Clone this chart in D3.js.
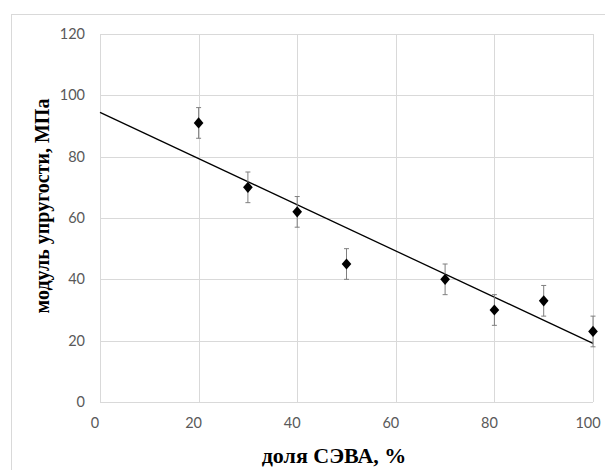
<!DOCTYPE html>
<html><head><meta charset="utf-8">
<script src="https://cdn.jsdelivr.net/npm/d3@7"></script>
<style>html,body{margin:0;padding:0;background:#fff;}</style>
</head><body>
<script>
const xValues = [20, 30, 40, 50, 70, 80, 90, 100];
const yValues = [91, 70, 62, 45, 40, 30, 33, 23];
const yErrors = [5, 5, 5, 5, 5, 5, 5, 5];
const xTicks = [0, 20, 40, 60, 80, 100];
const yTicks = [0, 20, 40, 60, 80, 100, 120];
const xTitle = "доля СЭВА, %";
const yTitle = "модуль упругости, МПа";

const W = 605, H = 470;
const svg = d3.select("body").append("svg").attr("width", W).attr("height", H);

// outer chart border
svg.append("rect").attr("x", 11.5).attr("y", 14.5).attr("width", 620).attr("height", 480)
  .attr("fill", "none").attr("stroke", "#d9d9d9");

const x = d3.scaleLinear().domain([0, 100]).range([100, 593]);
const y = d3.scaleLinear().domain([0, 120]).range([402, 34]);

// gridlines
svg.append("g").selectAll("line.v").data(xTicks).join("line")
  .attr("x1", d => Math.round(x(d)) + 0.5).attr("x2", d => Math.round(x(d)) + 0.5)
  .attr("y1", y(0)).attr("y2", y(120)).attr("stroke", "#d9d9d9");
svg.append("g").selectAll("line.h").data(yTicks).join("line")
  .attr("y1", d => Math.round(y(d)) + 0.5).attr("y2", d => Math.round(y(d)) + 0.5)
  .attr("x1", x(0)).attr("x2", x(100)).attr("stroke", "#d9d9d9");

// tick labels
const tickFont = "Lato, 'Liberation Sans', sans-serif";
svg.append("g").selectAll("text").data(yTicks).join("text")
  .attr("x", 85).attr("y", d => y(d)).attr("dy", "0.35em")
  .attr("text-anchor", "end").attr("font-family", tickFont).attr("font-size", 14.5)
  .attr("fill", "#595959").text(d => d);
svg.append("g").selectAll("text").data(xTicks).join("text")
  .attr("x", d => x(d) - 5).attr("y", 423).attr("dy", "0.35em")
  .attr("text-anchor", "middle").attr("font-family", tickFont).attr("font-size", 14.5)
  .attr("fill", "#595959").text(d => d);

// trendline (least squares)
const mx = d3.mean(xValues), my = d3.mean(yValues);
const sxy = d3.sum(xValues, (v, i) => (v - mx) * (yValues[i] - my));
const sxx = d3.sum(xValues, v => (v - mx) * (v - mx));
const slope = sxy / sxx, icpt = my - slope * mx;
svg.append("line").attr("x1", x(0)).attr("y1", y(icpt))
  .attr("x2", x(100)).attr("y2", y(icpt + slope * 100))
  .attr("stroke", "#000").attr("stroke-width", 1.3);

// error bars
const eb = svg.append("g").attr("stroke", "#7f7f7f").attr("stroke-width", 1);
xValues.forEach((xv, i) => {
  const cx = x(xv), t = y(yValues[i] + yErrors[i]), b = y(yValues[i] - yErrors[i]);
  eb.append("line").attr("x1", cx).attr("x2", cx).attr("y1", t).attr("y2", b);
  eb.append("line").attr("x1", cx - 2.5).attr("x2", cx + 2.5).attr("y1", t).attr("y2", t);
  eb.append("line").attr("x1", cx - 2.5).attr("x2", cx + 2.5).attr("y1", b).attr("y2", b);
});

// markers
svg.append("g").selectAll("path").data(xValues).join("path")
  .attr("d", d3.symbol(d3.symbolDiamond2, 66)())
  .attr("transform", (d, i) => `translate(${x(d)},${y(yValues[i])}) scale(0.95,1.1)`)
  .attr("fill", "#000");

// axis titles
svg.append("text").attr("x", 334).attr("y", 463)
  .attr("text-anchor", "middle").attr("font-family", "'Liberation Serif', 'Times New Roman', serif")
  .attr("font-weight", "bold").attr("font-size", 22).attr("fill", "#000").text(xTitle);
svg.append("text").attr("transform", "translate(49,206) rotate(-90)")
  .attr("text-anchor", "middle").attr("font-family", "'Liberation Serif', 'Times New Roman', serif")
  .attr("font-weight", "bold").attr("font-size", 20).attr("fill", "#000").text(yTitle);
</script>
</body></html>
